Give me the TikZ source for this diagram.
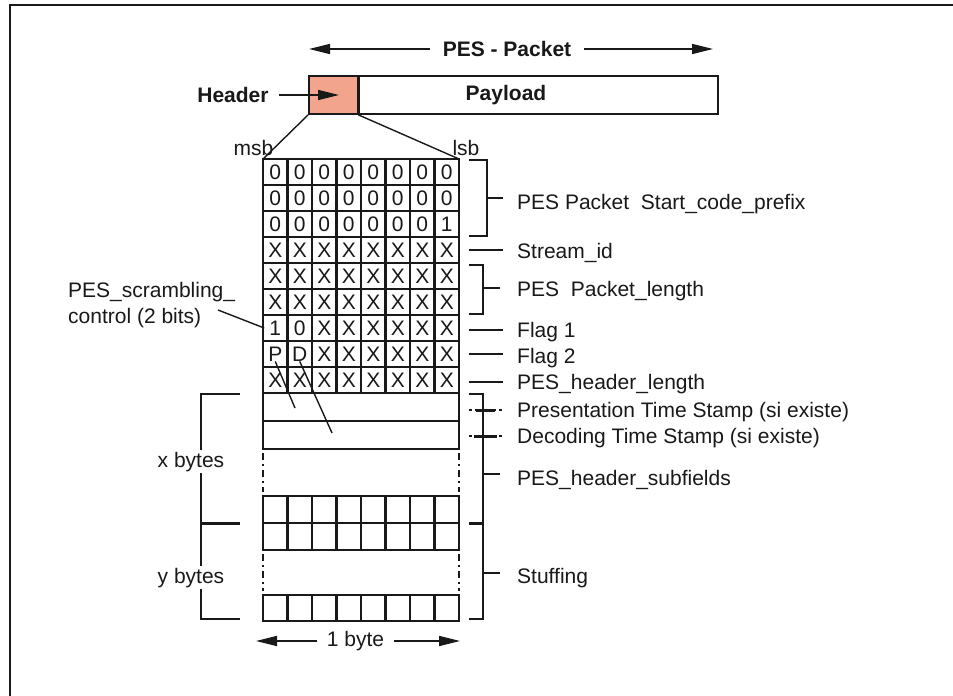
\documentclass[tikz,border=0pt]{standalone}
\usepackage{fontspec}
\setmainfont{Liberation Sans}
\usetikzlibrary{arrows.meta}
\definecolor{salmon}{RGB}{242,165,140}
\definecolor{ink}{RGB}{25,25,25}
\begin{document}
\begin{tikzpicture}[x=1pt,y=-1pt,
  every node/.style={font=\fontsize{21}{25}\selectfont, inner sep=0pt, text=ink},
  boldtxt/.style={font=\fontsize{21}{25}\selectfont\bfseries},
  lbl/.style={anchor=base west},
  cellline/.style={line width=1.8pt, draw=ink, line cap=rect},
  vline/.style={line width=2.3pt, draw=ink, line cap=rect},
  brk/.style={line width=1.4pt, draw=ink},
  thk/.style={line width=3pt, draw=ink},
  arr/.style={line width=1.7pt, draw=ink, -{Triangle[length=21pt,width=10pt]}},
  dd/.style={line width=1.4pt, draw=ink, dash pattern=on 7pt off 4pt on 2pt off 4pt},
  dots/.style={line width=1.4pt, draw=ink, dash pattern=on 3pt off 3pt},
]
\useasboundingbox (0,0) rectangle (953,696);
\fill[white] (0,0) rectangle (953,696);
% frame
\draw[line width=2pt, draw=ink] (10,696) -- (10,5) -- (953,5);

% PES packet arrow
\node[boldtxt, fill=white, inner xsep=13pt, inner ysep=2pt] (pes) at (507,49) {PES - Packet};
\coordinate (pesL) at (309,49);
\coordinate (pesR) at (713,49);
\draw[arr] (pes.west) -- (pesL);
\draw[arr] (pes.east) -- (pesR);

% header / payload
\node[draw=ink, line width=1.7pt, fill=salmon, minimum width=48.5pt, minimum height=38pt] (hdr) at (333.25,95) {};
\node[draw=ink, line width=1.7pt, minimum width=358.5pt, minimum height=38pt, anchor=west] (pay) at (hdr.east) {};
\node[boldtxt] (paytxt) at (506,95) {Payload};
\node[boldtxt] (hdrtxt) at (233,95) {Header};
\coordinate (hdrtip) at (339,95);
\draw[arr] ([xshift=10pt]hdrtxt.east) -- (hdrtip);

% zoom lines
\coordinate (gnw) at (263,159);
\coordinate (gne) at (459,159);
\draw[brk] (hdr.south west) -- (gnw);
\draw[brk] (hdr.south east) -- (gne);
\node[anchor=base] (msb) at (253.5,155) {msb};
\node[anchor=base] (lsb) at (466,155) {lsb};

% header grid
\foreach \k in {0,...,9} \draw[cellline] (263,{159+26*\k}) -- (459,{159+26*\k});
\foreach \k in {0,...,8} \draw[vline] ({263+24.5*\k},159) -- ({263+24.5*\k},393);
\foreach \row [count=\r] in {{0,0,0,0,0,0,0,0},{0,0,0,0,0,0,0,0},{0,0,0,0,0,0,0,1},{X,X,X,X,X,X,X,X},{X,X,X,X,X,X,X,X},{X,X,X,X,X,X,X,X},{1,0,X,X,X,X,X,X},{P,D,X,X,X,X,X,X},{X,X,X,X,X,X,X,X}}
  \foreach \v [count=\c] in \row
    \node (c\r-\c) at ({263+24.5*(\c-0.5)},{159+26*(\r-0.5)}) {\v};

% PTS / DTS
\draw[cellline] (263,393) rectangle (459,449);
\draw[cellline] (263,421) -- (459,421);
\coordinate (ptsend) at (295,408);
\coordinate (dtsend) at (332,433);
\draw[brk] (c8-1.south) -- (ptsend);
\draw[brk] (c8-2.south) -- (dtsend);

% dash-dot sides
\draw[dd] (263,453) -- (263,492);
\draw[dd] (459,453) -- (459,492);
\draw[dd] (263,554) -- (263,591);
\draw[dd] (459,554) -- (459,591);

% stuffing rows
\foreach \k in {496,523,550} \draw[cellline] (263,\k) -- (459,\k);
\foreach \k in {0,...,8} \draw[vline] ({263+24.5*\k},496) -- ({263+24.5*\k},550);
\foreach \k in {595,621} \draw[cellline] (263,\k) -- (459,\k);
\foreach \k in {0,...,8} \draw[vline] ({263+24.5*\k},595) -- ({263+24.5*\k},621);

% left bracket
\draw[brk] (240,394) -- (201,394) -- (201,619) -- (240,619);
\draw[thk] (201,523) -- (240,523);
\node[anchor=base, fill=white, inner xsep=1pt, inner ysep=2pt] (xb) at (191,467) {x bytes};
\node[anchor=base, fill=white, inner xsep=1pt, inner ysep=2pt] (yb) at (191,583) {y bytes};

% 1 byte
\node[fill=white, inner xsep=10pt, inner ysep=2pt] (oneb) at (355.5,641) {1 byte};
\coordinate (byteL) at (256,641);
\coordinate (byteR) at (460,641);
\draw[arr] (oneb.west) -- (byteL);
\draw[arr] (oneb.east) -- (byteR);

% scrambling control
\node[lbl] (scr1) at (68,297) {PES\_scrambling\_};
\node[lbl] (scr2) at (68,323) {control (2 bits)};
\coordinate (scrS) at (218,310);
\draw[brk] (scrS) -- ([xshift=-5pt]c7-1.west);

% right side labels
\draw[brk] (469,160) -- (487,160) -- (487,236) -- (469,236);
\draw[brk] (487,198) -- (503,198);
\node[lbl] (lstart) at (517,209) {PES Packet\ \ Start\_code\_prefix};

\draw[brk] (469,250) -- (503,250);
\node[lbl] (lstream) at (517,258) {Stream\_id};

\draw[brk] (469,265) -- (483,265) -- (483,314) -- (469,314);
\draw[brk] (483,288) -- (500,288);
\node[lbl] (llen) at (517,296.5) {PES\ \ Packet\_length};

\draw[brk] (469,330) -- (503,330);
\node[lbl] (lf1) at (517,337) {Flag 1};
\draw[brk] (469,354) -- (503,354);
\node[lbl] (lf2) at (517,363) {Flag 2};
\draw[brk] (469,382) -- (503,382);
\node[lbl] (lhl) at (517,389) {PES\_header\_length};

\draw[dots] (469,410) -- (504,410);
\draw[thk] (476,410) -- (495,410);
\node[lbl] (lpts) at (517,417) {Presentation Time Stamp (si existe)};
\draw[dots] (469,436) -- (504,436);
\draw[thk] (474,436) -- (497,436);
\node[lbl] (ldts) at (517,443) {Decoding Time Stamp (si existe)};

\draw[brk] (469,394) -- (483,394) -- (483,619) -- (469,619);
\draw[thk] (469,523) -- (483,523);
\draw[brk] (483,474) -- (500,474);
\node[lbl] (lsub) at (517,485) {PES\_header\_subfields};
\draw[brk] (483,573) -- (500,573);
\node[lbl] (lstuff) at (517,583) {Stuffing};
\end{tikzpicture}
\end{document}
